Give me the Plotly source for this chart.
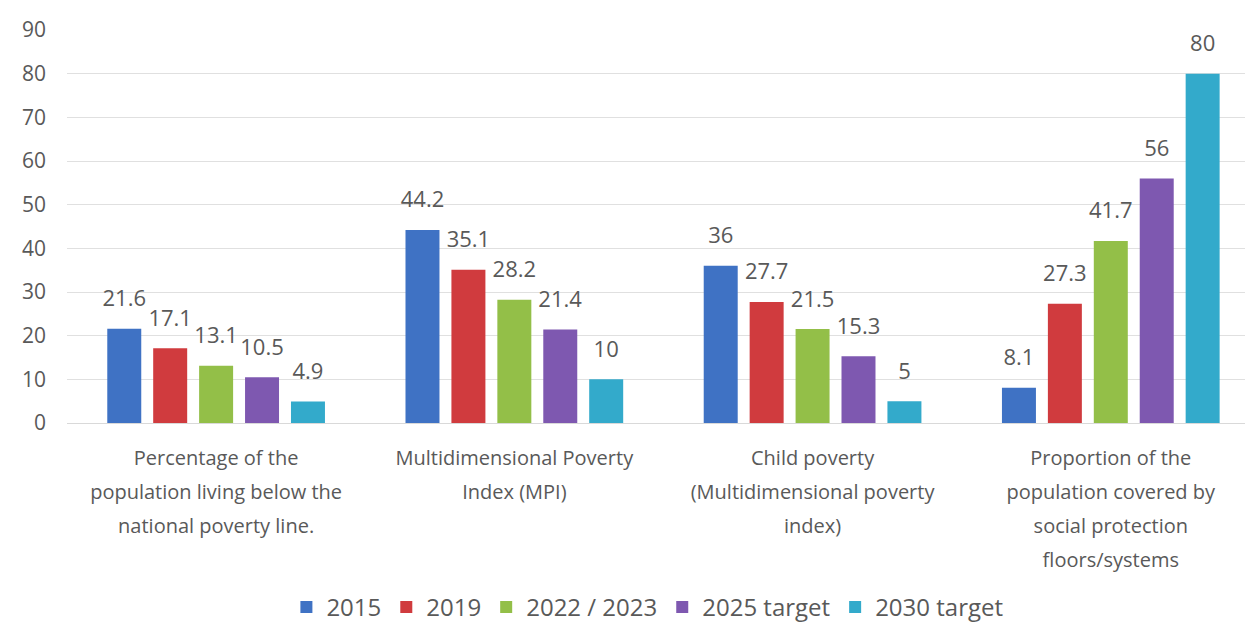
import plotly.graph_objects as go

# Indicator categories (x axis), one entry per line of the label
categories = [
    ["Percentage of the", "population living below the", "national poverty line."],
    ["Multidimensional Poverty", "Index (MPI)"],
    ["Child poverty", "(Multidimensional poverty", "index)"],
    ["Proportion of the", "population covered by", "social protection", "floors/systems"],
]

# Series values per indicator
series_names = ["2015", "2019", "2022 / 2023", "2025 target", "2030 target"]
values_2015 = [21.6, 44.2, 36, 8.1]
values_2019 = [17.1, 35.1, 27.7, 27.3]
values_2022_2023 = [13.1, 28.2, 21.5, 41.7]
values_2025_target = [10.5, 21.4, 15.3, 56]
values_2030_target = [4.9, 10, 5, 80]

series_values = [values_2015, values_2019, values_2022_2023, values_2025_target, values_2030_target]
colors = ["#3F72C4", "#D03B3E", "#93BF48", "#7E58B0", "#33AACB"]

y_ticks = [0, 10, 20, 30, 40, 50, 60, 70, 80, 90]

text_color = "#595959"
font_family = "'Open Sans', Lato, sans-serif"

cat_keys = [" ".join(c) for c in categories]
# category labels: glyphs at 20px, line pitch taken from the larger tick font
cat_text = ["<br>".join(f"<span style='font-size:20px'>{line}</span>" for line in c)
            for c in categories]


def bar_label(v):
    # value on top, with a small blank line below it to lift the label off the bar
    return f"<span style='font-size:22px'>{v:g}</span><br>\u00a0"


fig = go.Figure()
for name, vals, col in zip(series_names, series_values, colors):
    fig.add_trace(go.Bar(
        name=name,
        x=cat_keys,
        y=vals,
        marker=dict(color=col, line=dict(width=0)),
        text=[bar_label(v) for v in vals],
        textposition="outside",
        constraintext="none",
        cliponaxis=False,
        textfont=dict(size=12, color=text_color, family=font_family),
    ))

fig.update_layout(
    width=1245,
    height=623,
    margin=dict(l=67, r=0, t=30, b=200),
    paper_bgcolor="white",
    plot_bgcolor="white",
    barmode="group",
    bargap=0.23,
    bargroupgap=0.26,
    font=dict(family=font_family, size=16, color=text_color),
    showlegend=True,
    legend=dict(
        orientation="h",
        xref="container",
        yref="container",
        x=0.52,
        xanchor="center",
        y=0.025,
        yanchor="middle",
        font=dict(size=24, color=text_color, family=font_family),
        itemwidth=30,
        traceorder="normal",
    ),
)

fig.update_xaxes(
    type="category",
    range=[-0.5, 3.45],
    tickmode="array",
    tickvals=cat_keys,
    ticktext=cat_text,
    showgrid=False,
    showline=True,
    linecolor="#D9D9D9",
    linewidth=1,
    ticks="",
    tickfont=dict(size=26, color=text_color, family=font_family),
    ticklabelstandoff=10,
    tickangle=0,
    automargin=False,
)

fig.update_yaxes(
    range=[0, 90],
    tickvals=y_ticks,
    showgrid=True,
    gridcolor="#E0E0E0",
    gridwidth=1,
    zeroline=False,
    showline=False,
    ticks="",
    tickfont=dict(size=21, color=text_color, family=font_family),
    ticklabelstandoff=20,
    automargin=False,
)

fig.write_html("out.html")
